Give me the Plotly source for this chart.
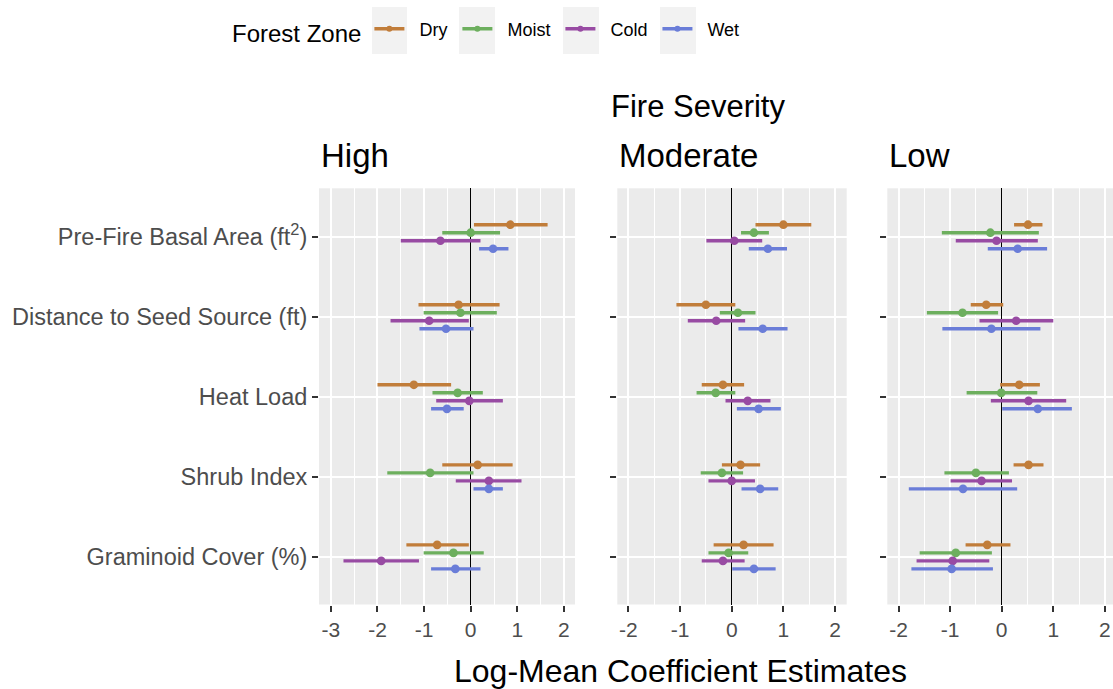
import plotly.graph_objects as go

# ---------------- data ----------------
variables = ["Pre-Fire Basal Area (ft<sup>2</sup>)", "Distance to Seed Source (ft)",
             "Heat Load", "Shrub Index", "Graminoid Cover (%)"]
severities = ["High", "Moderate", "Low"]
zones = ["Dry", "Moist", "Cold", "Wet"]
x_ticks = [-3, -2, -1, 0, 1, 2]
x_tick_labels = ["-3", "-2", "-1", "0", "1", "2"]

# estimates[severity][zone] -> list over variables (top to bottom)
high_est = {
    "Dry":   [0.85, -0.26, -1.22, 0.15, -0.72],
    "Moist": [0.00, -0.22, -0.28, -0.87, -0.37],
    "Cold":  [-0.65, -0.89, -0.03, 0.39, -1.92],
    "Wet":   [0.48, -0.53, -0.51, 0.39, -0.33],
}
high_lo = {
    "Dry":   [0.07, -1.12, -2.00, -0.61, -1.38],
    "Moist": [-0.61, -1.01, -0.82, -1.79, -1.01],
    "Cold":  [-1.50, -1.72, -0.74, -0.32, -2.73],
    "Wet":   [0.18, -1.10, -0.85, 0.06, -0.85],
}
high_hi = {
    "Dry":   [1.65, 0.62, -0.42, 0.90, -0.04],
    "Moist": [0.63, 0.56, 0.26, 0.06, 0.28],
    "Cold":  [0.21, -0.04, 0.69, 1.09, -1.11],
    "Wet":   [0.81, 0.06, -0.15, 0.69, 0.21],
}

mod_est = {
    "Dry":   [1.00, -0.50, -0.17, 0.17, 0.23],
    "Moist": [0.43, 0.12, -0.31, -0.19, -0.06],
    "Cold":  [0.05, -0.30, 0.31, 0.00, -0.17],
    "Wet":   [0.70, 0.60, 0.52, 0.55, 0.43],
}
mod_lo = {
    "Dry":   [0.46, -1.07, -0.58, -0.19, -0.35],
    "Moist": [0.18, -0.23, -0.68, -0.60, -0.45],
    "Cold":  [-0.49, -0.85, -0.12, -0.45, -0.58],
    "Wet":   [0.33, 0.13, 0.10, 0.19, 0.01],
}
mod_hi = {
    "Dry":   [1.54, 0.07, 0.24, 0.55, 0.81],
    "Moist": [0.72, 0.46, 0.07, 0.22, 0.32],
    "Cold":  [0.59, 0.26, 0.75, 0.45, 0.25],
    "Wet":   [1.07, 1.08, 0.95, 0.90, 0.85],
}

low_est = {
    "Dry":   [0.51, -0.30, 0.34, 0.52, -0.28],
    "Moist": [-0.22, -0.76, -0.01, -0.50, -0.89],
    "Cold":  [-0.10, 0.28, 0.52, -0.39, -0.95],
    "Wet":   [0.31, -0.20, 0.70, -0.75, -0.97],
}
low_lo = {
    "Dry":   [0.24, -0.60, -0.03, 0.23, -0.70],
    "Moist": [-1.16, -1.45, -0.68, -1.11, -1.59],
    "Cold":  [-0.89, -0.43, -0.21, -0.99, -1.65],
    "Wet":   [-0.27, -1.15, 0.01, -1.80, -1.75],
}
low_hi = {
    "Dry":   [0.79, 0.03, 0.74, 0.81, 0.17],
    "Moist": [0.72, -0.07, 0.69, 0.14, -0.19],
    "Cold":  [0.70, 1.00, 1.25, 0.20, -0.24],
    "Wet":   [0.88, 0.75, 1.36, 0.30, -0.17],
}

panels = [(high_est, high_lo, high_hi), (mod_est, mod_lo, mod_hi), (low_est, low_lo, low_hi)]

# ---------------- style ----------------
colors = {"Dry": "#C17D3A", "Moist": "#6DAF5E", "Cold": "#984BA3", "Wet": "#6A7DD8"}
dodge = {"Dry": 0.15, "Moist": 0.05, "Cold": -0.05, "Wet": -0.15}
FONT = "Liberation Sans, Arial, sans-serif"
W, H = 1113, 689
NB = "\u00a0"

# panel pixel geometry
px_domains = [(319, 575), (617.3, 846.7), (887.3, 1113)]
x_ranges = [[-3.255, 2.238], [-2.214, 2.225], [-2.217, 2.157]]
y_dom = [(H - 604.5) / H, (H - 188.3) / H]
y_range = [0.405, 5.605]
cat_pos = [5, 4, 3, 2, 1]

# legend key boxes (pixel x-extent), as in the reference
key_boxes = [(372, 407), (459, 495), (563, 599), (660, 696)]

fig = go.Figure()

for i, (est, lo, hi) in enumerate(panels):
    xa = "x" if i == 0 else f"x{i+1}"
    ya = "y" if i == 0 else f"y{i+1}"
    for z in zones:
        ys = [p + dodge[z] for p in cat_pos]
        fig.add_trace(go.Scatter(
            x=est[z], y=ys, xaxis=xa, yaxis=ya, mode="markers",
            marker=dict(color=colors[z], size=8.7),
            error_x=dict(type="data", symmetric=False,
                         array=[h - e for h, e in zip(hi[z], est[z])],
                         arrayminus=[e - l for e, l in zip(est[z], lo[z])],
                         color=colors[z], thickness=3.4, width=0),
            showlegend=False, hoverinfo="x+y", name=z,
        ))

# legend entries
for z in zones:
    fig.add_trace(go.Scatter(
        x=[None], y=[None], mode="lines+markers", name=NB + NB + z + NB,
        line=dict(color=colors[z], width=3.4),
        marker=dict(color=colors[z], size=6),
        showlegend=True,
    ))

axis_common = dict(
    showgrid=True, gridcolor="white", gridwidth=1.8,
    ticks="outside", ticklen=6, tickwidth=1.8, tickcolor="#333333",
    showline=False, automargin=False,
)

for i in range(3):
    key = "xaxis" if i == 0 else f"xaxis{i+1}"
    ykey = "yaxis" if i == 0 else f"yaxis{i+1}"
    l, r = px_domains[i]
    fig.layout[key] = dict(
        axis_common,
        domain=[l / W, r / W], range=x_ranges[i],
        tickvals=x_ticks, ticktext=x_tick_labels,
        anchor="y" if i == 0 else f"y{i+1}",
        tickfont=dict(family=FONT, size=21, color="#4D4D4D"),
        zeroline=True, zerolinecolor="black", zerolinewidth=1.4,
        minor=dict(dtick=0.5, tick0=0.5, showgrid=True, gridcolor="white", gridwidth=0.9, ticks=""),
    )
    fig.layout[ykey] = dict(
        axis_common,
        domain=y_dom, range=y_range,
        tickvals=cat_pos, ticktext=variables,
        showticklabels=(i == 0),
        zeroline=False,
        anchor="x" if i == 0 else f"x{i+1}",
        tickfont=dict(family=FONT, size=23.5, color="#4D4D4D"),
    )

annotations = []
for i, s in enumerate(severities):
    annotations.append(dict(
        text=s, x=px_domains[i][0] / W, y=1 - 155 / H, xref="paper", yref="paper",
        xanchor="left", yanchor="middle", showarrow=False, xshift=0,
        font=dict(family=FONT, size=33, color="black"),
    ))
annotations.append(dict(
    text="Fire Severity", x=698 / W, y=1 - 106 / H, xref="paper", yref="paper",
    xanchor="center", yanchor="middle", showarrow=False,
    font=dict(family=FONT, size=31, color="black"),
))
annotations.append(dict(
    text="Log-Mean Coefficient Estimates", x=680 / W, y=1 - 671 / H, xref="paper", yref="paper",
    xanchor="center", yanchor="middle", showarrow=False,
    font=dict(family=FONT, size=32, color="black"),
))

shapes = [dict(type="rect", xref="paper", yref="paper",
               x0=a / W, x1=b / W, y0=1 - 54 / H, y1=1 - 7 / H,
               fillcolor="#F2F2F2", line=dict(width=0), layer="above")
          for a, b in key_boxes]

fig.update_layout(
    width=W, height=H,
    margin=dict(l=0, r=0, t=0, b=0),
    paper_bgcolor="white", plot_bgcolor="#EBEBEB",
    font=dict(family=FONT),
    annotations=annotations,
    shapes=shapes,
    legend=dict(
        orientation="h", x=230 / W, y=1 - 31.5 / H, xanchor="left", yanchor="middle",
        title=dict(text="Forest Zone", side="left", font=dict(family=FONT, size=24, color="black")),
        font=dict(family=FONT, size=18, color="black"),
        bgcolor="rgba(0,0,0,0)",
    ),
)

fig.write_html("out.html")
